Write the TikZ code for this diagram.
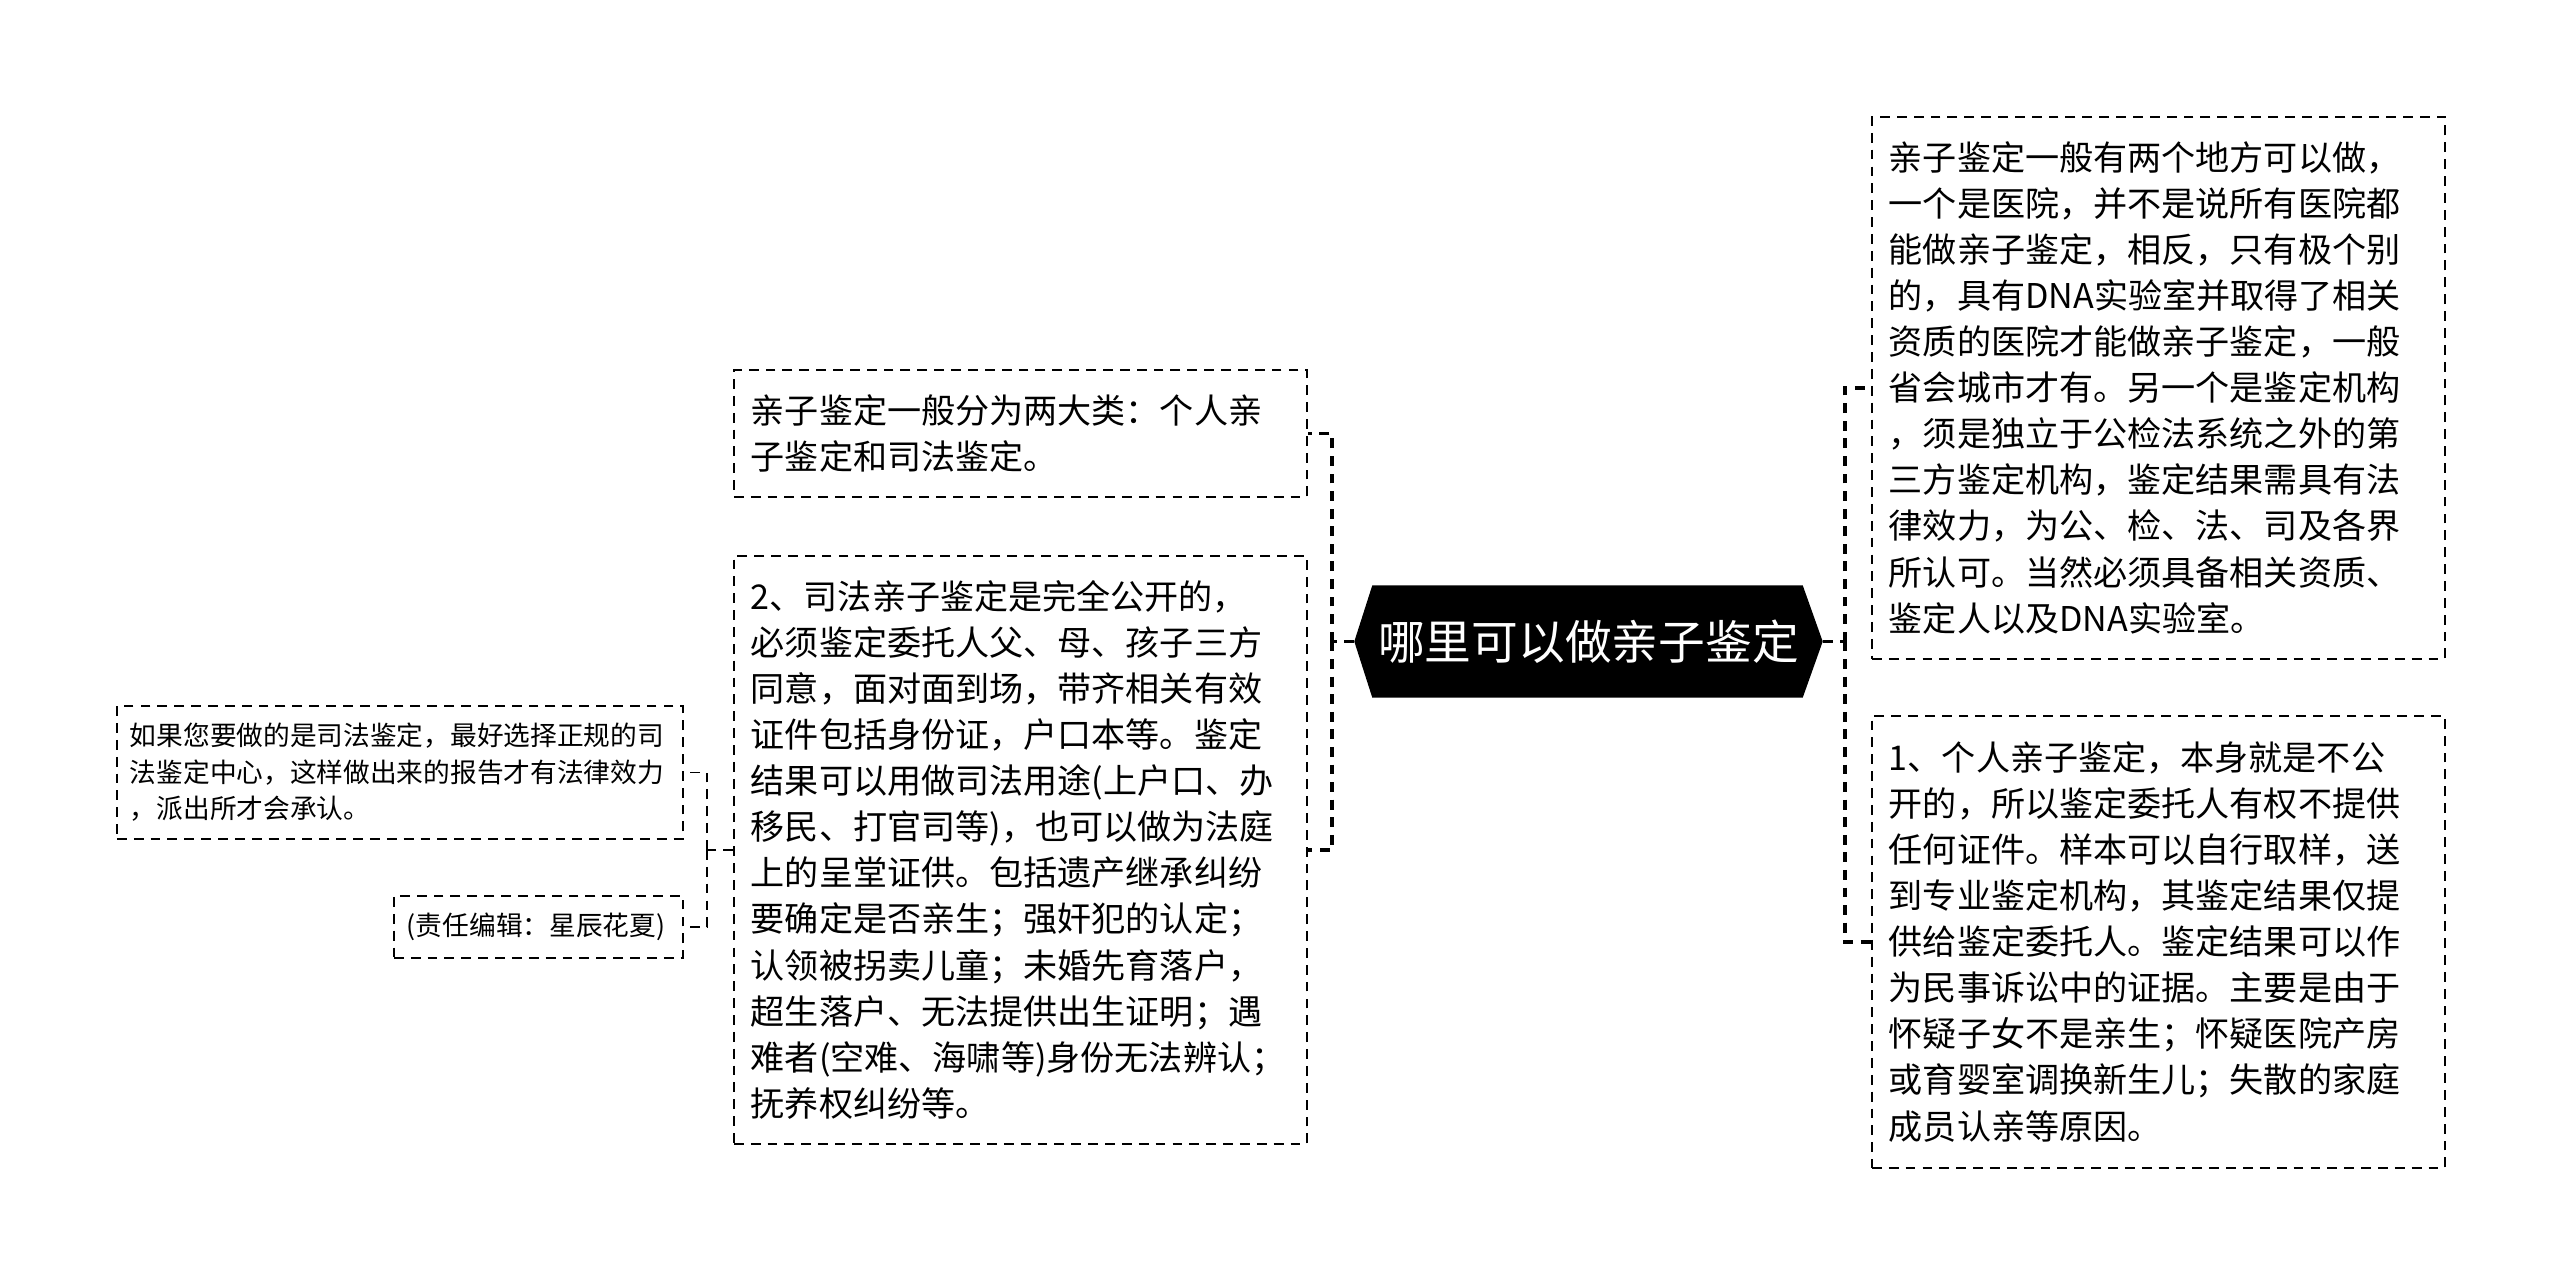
\documentclass[tikz,border=0pt]{standalone}
\usepackage{fontspec}
\setmainfont{Noto Sans CJK SC}
\usepackage{tikz}
\usetikzlibrary{positioning,calc,backgrounds}

\begin{document}
\begin{tikzpicture}[
  topic/.style={text=white, minimum width=4.67cm, minimum height=1.11cm, inner sep=0pt, font=\fontsize{13.3pt}{16pt}\selectfont},
  note/.style={draw, line width=0.5pt, dash pattern=on 2.8pt off 2pt, anchor=north west, align=left, inner xsep=0.17cm, inner ysep=0.1cm, font=\fontsize{9.7pt}{13.1pt}\selectfont},
  small/.style={note, inner xsep=0.13cm, font=\fontsize{7.6pt}{10.4pt}\selectfont},
  link/.style={line width=1pt, dash pattern=on 2.8pt off 2.2pt},
  thinlink/.style={line width=0.5pt, dash pattern=on 2.8pt off 2pt}
]
  \useasboundingbox (0,0) rectangle (25.6,-12.84);

  \node[topic] (root) at (15.885,-6.415) {哪里可以做亲子鉴定};
  \begin{scope}[on background layer]
    \fill (root.west) -- ($(root.north west)+(0.18,0)$) -- ($(root.north east)+(-0.2,0)$)
      -- (root.east) -- ($(root.south east)+(-0.2,0)$) -- ($(root.south west)+(0.18,0)$) -- cycle;
  \end{scope}

  % right side
  \node[note, text width=5.39cm, minimum height=5.42cm] (rt) at (18.71,-1.16) {亲子鉴定一般有两个地方可以做，\\一个是医院，并不是说所有医院都\\能做亲子鉴定，相反，只有极个别\\的，具有DNA实验室并取得了相关\\资质的医院才能做亲子鉴定，一般\\省会城市才有。另一个是鉴定机构\\，须是独立于公检法系统之外的第\\三方鉴定机构，鉴定结果需具有法\\律效力，为公、检、法、司及各界\\所认可。当然必须具备相关资质、\\鉴定人以及DNA实验室。};
  \node[note, text width=5.39cm, minimum height=4.52cm] (rb) at (18.71,-7.15) {1、个人亲子鉴定，本身就是不公\\开的，所以鉴定委托人有权不提供\\任何证件。样本可以自行取样，送\\到专业鉴定机构，其鉴定结果仅提\\供给鉴定委托人。鉴定结果可以作\\为民事诉讼中的证据。主要是由于\\怀疑子女不是亲生；怀疑医院产房\\或育婴室调换新生儿；失散的家庭\\成员认亲等原因。};

  % left side
  \node[note, text width=5.39cm, minimum height=1.27cm] (la) at (7.33,-3.69) {亲子鉴定一般分为两大类：个人亲\\子鉴定和司法鉴定。};
  \node[note, text width=5.39cm, minimum height=5.88cm] (lb) at (7.33,-5.55) {2、司法亲子鉴定是完全公开的，\\必须鉴定委托人父、母、孩子三方\\同意，面对面到场，带齐相关有效\\证件包括身份证，户口本等。鉴定\\结果可以用做司法用途(上户口、办\\移民、打官司等)，也可以做为法庭\\上的呈堂证供。包括遗产继承纠纷\\要确定是否亲生；强奸犯的认定；\\认领被拐卖儿童；未婚先育落户，\\超生落户、无法提供出生证明；遇\\难者(空难、海啸等)身份无法辨认；\\抚养权纠纷等。};

  \node[small, text width=5.40cm, minimum height=1.33cm] (fc) at (1.16,-7.05) {如果您要做的是司法鉴定，最好选择正规的司\\法鉴定中心，这样做出来的报告才有法律效力\\，派出所才会承认。};
  \node[small, text width=2.63cm, minimum height=0.62cm] (fd) at (3.93,-8.95) {(责任编辑：星辰花夏)};

  % connectors
  \draw[link] (root.east) -- (18.45,-6.415) coordinate (rj);
  \foreach \b in {rt,rb}
    \draw[link] (rj) |- (\b.west);
  \draw[link] (root.west) -- (13.32,-6.415) coordinate (lj);
  \foreach \b in {la,lb}
    \draw[link] (lj) |- (\b.east);
  \draw[thinlink] (lb.west) -- ++(-0.26,0) coordinate (fj);
  \foreach \b in {fc,fd}
    \draw[thinlink] (fj) |- (\b.east);
\end{tikzpicture}
\end{document}
